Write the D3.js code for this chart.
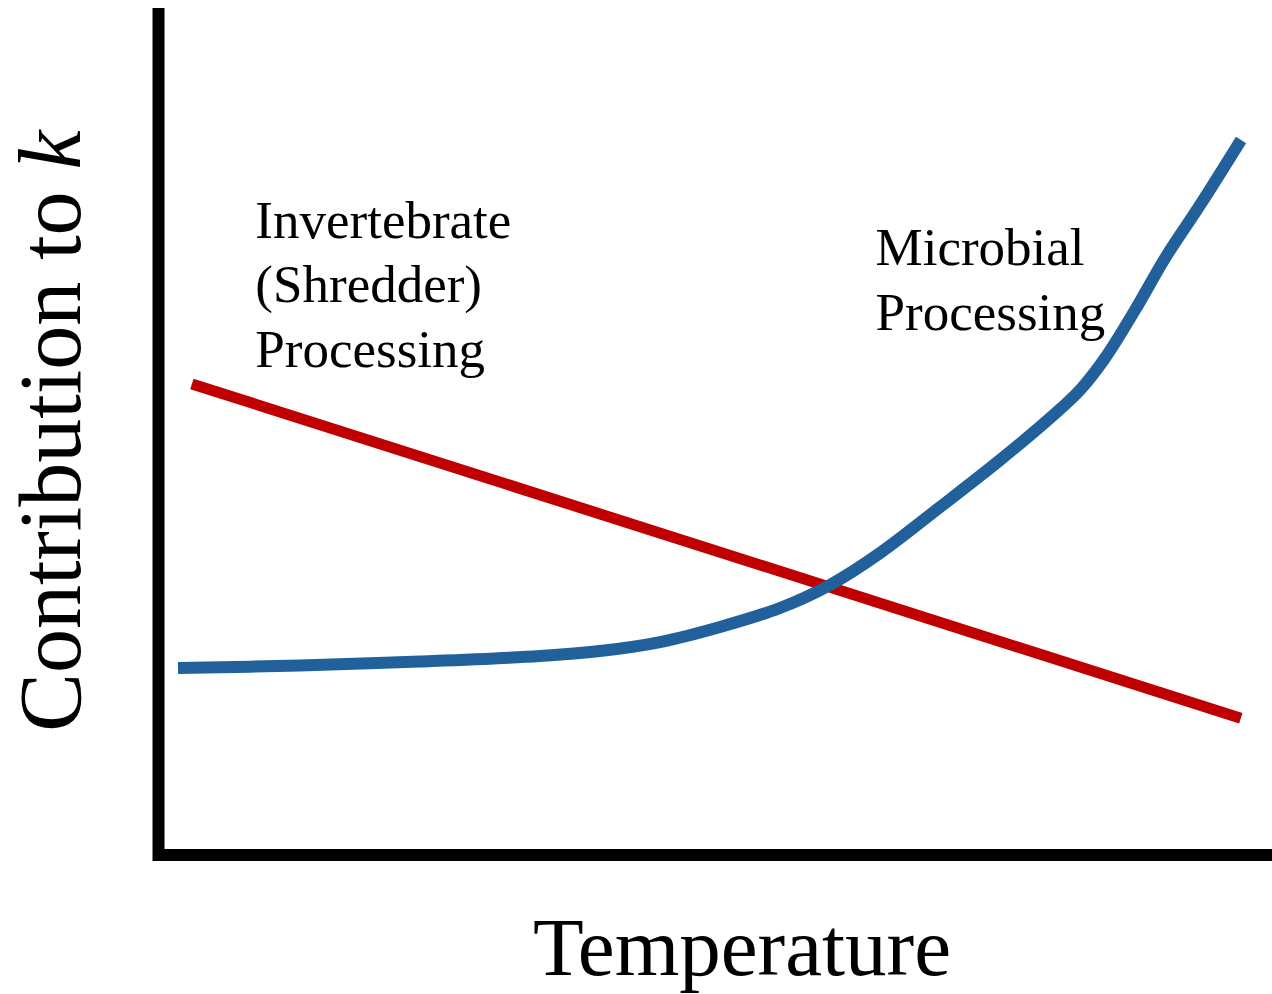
<!DOCTYPE html>
<html>
<head>
<meta charset="utf-8">
<script src="https://cdn.jsdelivr.net/npm/d3@7"></script>
<style>
  html, body { margin: 0; padding: 0; background: #fff; }
  svg { display: block; }
  text { font-family: "Liberation Serif", "Times New Roman", serif; fill: #000; }
</style>
</head>
<body>
<svg id="chart" width="1272" height="994"></svg>
<script>
// Conceptual chart: arbitrary units (0–10) on both axes
const xLabel = "Temperature";
const yLabel = "Contribution to";
const yLabelItalic = "k";

const invertebrateTemp = [0.30, 9.72];
const invertebrateK    = [5.51, 1.60];

const microbialTemp = [0.175, 1.271, 2.348, 3.426, 3.965, 4.504, 5.043, 5.582, 6.030, 6.480, 7.019, 7.558, 8.007, 8.276, 8.501, 8.770, 9.040, 9.354, 9.722];
const microbialK    = [2.187, 2.216, 2.263, 2.327, 2.386, 2.491, 2.667, 2.889, 3.158, 3.532, 4.070, 4.620, 5.111, 5.439, 5.813, 6.374, 6.982, 7.602, 8.363];

const invertebrateLabel = ["Invertebrate", "(Shredder)", "Processing"];
const invertebrateLabelPos = [0.87, 7.22];  // temp, k of first baseline
const microbialLabel = ["Microbial", "Processing"];
const microbialLabelPos = [6.44, 6.90];

const svg = d3.select("#chart");
const x = d3.scaleLinear().domain([0, 10]).range([158.5, 1272]);
const y = d3.scaleLinear().domain([0, 10]).range([855, 0]);

// Axes (no ticks)
const axisPath = d3.path();
axisPath.moveTo(x(0), y(9.905));
axisPath.lineTo(x(0), y(0));
axisPath.lineTo(x(10), y(0));
svg.append("path")
  .attr("d", axisPath.toString())
  .attr("fill", "none")
  .attr("stroke", "#000")
  .attr("stroke-width", 12)
  .attr("stroke-linejoin", "miter")
  .attr("stroke-linecap", "butt");

// Invertebrate line (red)
svg.append("path")
  .datum(d3.zip(invertebrateTemp, invertebrateK))
  .attr("d", d3.line().x(d => x(d[0])).y(d => y(d[1])))
  .attr("fill", "none")
  .attr("stroke", "#C00000")
  .attr("stroke-width", 11);

// Microbial curve (blue)
svg.append("path")
  .datum(d3.zip(microbialTemp, microbialK))
  .attr("d", d3.line().x(d => x(d[0])).y(d => y(d[1])).curve(d3.curveCatmullRom.alpha(0.5)))
  .attr("fill", "none")
  .attr("stroke", "#22609B")
  .attr("stroke-width", 12);

// Labels
function multiLine(lines, pos) {
  const t = svg.append("text")
    .attr("x", x(pos[0]))
    .attr("y", y(pos[1]))
    .attr("font-size", 53);
  lines.forEach((s, i) => {
    t.append("tspan")
      .attr("x", x(pos[0]))
      .attr("dy", i === 0 ? 0 : 64.5)
      .text(s);
  });
}
multiLine(invertebrateLabel, invertebrateLabelPos);
multiLine(microbialLabel, microbialLabelPos);

// X axis title
svg.append("text")
  .attr("x", 742)
  .attr("y", 975)
  .attr("text-anchor", "middle")
  .attr("font-size", 83)
  .text(xLabel);

// Y axis title
const yt = svg.append("text")
  .attr("transform", "translate(80,431) rotate(-90)")
  .attr("text-anchor", "middle")
  .attr("font-size", 88);
yt.append("tspan").text(yLabel + " ");
yt.append("tspan").attr("font-style", "italic").text(yLabelItalic);
</script>
</body>
</html>
